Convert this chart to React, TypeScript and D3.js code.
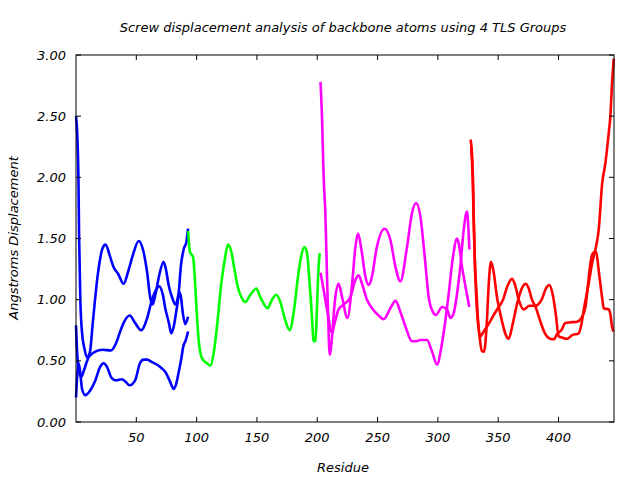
import React from "react";
import * as d3 from "d3";

const TITLE = "Screw displacement analysis of backbone atoms using 4 TLS Groups";
const X_LABEL = "Residue";
const Y_LABEL = "Angstroms Displacement";
const X_TICKS = [50, 100, 150, 200, 250, 300, 350, 400];
const Y_TICKS = [0, 0.5, 1.0, 1.5, 2.0, 2.5, 3.0];
const X_DOMAIN: [number, number] = [0, 446];
const Y_DOMAIN: [number, number] = [0, 3];

// Group 1 (blue) – three screw components
const blueA: [number, number][] = [
  [0, 2.5], [1, 2.36], [2, 2.0], [2.6, 1.5], [3.6, 1.0], [5, 0.73], [7, 0.6], [9, 0.53], [11.5, 0.57],
  [14, 0.82], [18, 1.2], [22, 1.42], [24.5, 1.45], [28, 1.36], [31, 1.27], [35, 1.21], [39.5, 1.13],
  [43.5, 1.24], [47, 1.36], [52, 1.48], [55.5, 1.41], [59, 1.22], [61.5, 1.02], [63.5, 0.96], [66, 1.05],
  [69, 1.2], [72.6, 1.31], [74.5, 1.25], [77, 1.11], [80, 1.01], [82.3, 0.96], [85, 1.05], [87, 1.28],
  [89.5, 1.42], [91.5, 1.47], [92.9, 1.58],
];
const blueB: [number, number][] = [
  [0, 0.79], [1, 0.56], [2.2, 0.43], [4.4, 0.37], [6.5, 0.42], [10.5, 0.53], [16, 0.575], [22, 0.59],
  [29, 0.585], [33, 0.64], [37, 0.75], [40, 0.82], [44.5, 0.87], [49, 0.81], [54, 0.75], [59, 0.85],
  [63, 1.0], [67, 1.09], [69, 1.11], [72, 1.04], [74, 0.93], [77, 0.81], [79, 0.725], [81, 0.78],
  [83.7, 0.94], [85.9, 1.06], [87, 1.02], [88.7, 0.88], [90.6, 0.8], [92.9, 0.86],
];
const blueC: [number, number][] = [
  [0, 0.2], [0.7, 0.33], [2.2, 0.48], [3.6, 0.4], [5, 0.27], [7.7, 0.22], [11.9, 0.26], [16, 0.34],
  [20, 0.45], [23, 0.48], [25.7, 0.45], [29.5, 0.36], [33, 0.34], [38, 0.35], [41, 0.33], [44.5, 0.3],
  [49, 0.34], [53, 0.48], [56, 0.51], [59, 0.51], [63, 0.49], [67, 0.47], [71, 0.44], [74, 0.41],
  [78, 0.33], [81, 0.27], [83, 0.31], [85, 0.4], [87, 0.5], [89, 0.62], [91, 0.67], [92.9, 0.74],
];

// Group 2 (green)
const green: [number, number][] = [
  [93, 1.56], [94.4, 1.39], [97, 1.35], [98.9, 1.11], [100.3, 0.86], [101.7, 0.67], [104.5, 0.52],
  [108.6, 0.48], [111.4, 0.46], [114.1, 0.56], [117.4, 0.83], [120.2, 1.11], [123.2, 1.32], [126, 1.45],
  [128.8, 1.39], [131.5, 1.24], [134, 1.11], [137.6, 1.01], [140.4, 0.98], [144.5, 1.04], [149.5, 1.09],
  [152.8, 1.02], [158.9, 0.93], [162.5, 1.0], [166.1, 1.04], [169.4, 0.98], [172.7, 0.86], [177.1, 0.75],
  [180.4, 0.89], [183.7, 1.16], [186.6, 1.35], [189.3, 1.43], [191.5, 1.38], [193.7, 1.13], [195.6, 0.86],
  [197, 0.66], [198.4, 0.66], [199.8, 0.94], [200.7, 1.19], [202, 1.38],
];

// Group 3 (magenta)
const magentaA: [number, number][] = [
  [202.7, 2.78], [204, 2.47], [205.3, 2.0], [206.7, 1.71], [208.1, 1.19], [208.9, 0.92], [210.3, 0.55],
  [212.3, 0.7], [214.4, 0.97], [217.7, 1.13], [220.6, 1.02], [225, 0.85], [228.9, 1.13], [231.6, 1.43],
  [233.8, 1.54], [236.6, 1.41], [239.9, 1.19], [242.6, 1.12], [245.4, 1.19], [249, 1.41], [255.9, 1.58],
  [260.6, 1.49], [264.8, 1.27], [268.9, 1.15], [274.4, 1.43], [278.6, 1.71], [281.9, 1.79], [285.5, 1.68],
  [289.1, 1.35], [292.4, 1.02], [295.8, 0.9], [298.3, 0.875], [303.5, 0.94], [307.6, 0.92], [310.4, 0.85],
  [313.1, 0.89], [315.9, 1.05], [318.6, 1.27], [321.4, 1.57], [324.1, 1.72], [325.2, 1.6], [326.1, 1.41],
];
const magentaB: [number, number][] = [
  [202.7, 1.22], [205.3, 1.08], [208.1, 0.92], [212.3, 0.73], [214.4, 0.81], [217.7, 0.92], [221.9, 0.96],
  [227.4, 1.02], [231.6, 1.16], [234.3, 1.2], [237.1, 1.13], [241.2, 1.0], [245.4, 0.93], [250.9, 0.87],
  [255, 0.84], [260.6, 0.93], [265, 0.99], [268.9, 0.9], [273.1, 0.78], [278.6, 0.66], [282, 0.66],
  [285.5, 0.67], [291, 0.67], [295, 0.58], [299.3, 0.47], [303, 0.62], [306.2, 0.83], [309, 1.05],
  [312.5, 1.35], [315.9, 1.5], [317.5, 1.45], [320, 1.27], [323, 1.1], [326, 0.94],
];

// Group 4 (red)
const redA: [number, number][] = [
  [327.1, 2.31], [328.4, 2.17], [329.2, 1.95], [329.7, 1.68], [330.5, 1.35], [331.9, 1.08], [333.3, 0.83],
  [335, 0.66], [336.5, 0.58], [338.2, 0.575], [340.5, 0.8], [342, 1.1], [344, 1.31], [346, 1.24],
  [349, 1.02], [353, 0.83], [356, 0.72], [358.7, 0.68], [362, 0.8], [366, 0.98], [370, 1.1], [372.6, 1.13],
  [375, 1.1], [378, 1.0], [381, 0.94], [385, 0.82], [389, 0.72], [393, 0.68], [396, 0.676], [399, 0.72],
  [402.3, 0.75], [405.7, 0.81], [410, 0.815], [415.4, 0.82], [419.6, 0.86], [422.3, 0.94], [424.5, 1.13],
  [426.5, 1.3], [428, 1.37], [430, 1.39], [431.2, 1.39], [433.3, 1.24], [436.1, 1.02], [437.5, 0.93],
  [441.6, 0.92], [443, 0.88], [444.4, 0.78], [445.5, 0.74],
];
const redB: [number, number][] = [
  [327.6, 2.25], [328.8, 2.0], [329.8, 1.6], [331, 1.2], [332.5, 0.9], [335.2, 0.7], [338, 0.74], [342, 0.8],
  [346, 0.87], [350.4, 0.94], [354, 1.0], [358, 1.12], [361.5, 1.17], [364, 1.12], [367, 1.0], [371.1, 0.92],
  [376, 0.95], [381, 0.95], [386, 1.0], [390, 1.1], [392.4, 1.12], [395, 1.05], [397.5, 0.9], [400.2, 0.7],
  [403, 0.69], [407.1, 0.68], [411.3, 0.71], [416.8, 0.725], [419, 0.8], [421, 0.92], [425, 1.13],
  [427.9, 1.3], [430.6, 1.41], [433.3, 1.57], [436.2, 1.95], [438.9, 2.12], [441.6, 2.36], [443, 2.5],
  [444.4, 2.77], [445.8, 2.97],
];

const SERIES: { data: [number, number][]; color: string }[] = [
  { data: blueA, color: "#0000ff" },
  { data: blueB, color: "#0000ff" },
  { data: blueC, color: "#0000ff" },
  { data: green, color: "#00ff00" },
  { data: magentaA, color: "#ff00ff" },
  { data: magentaB, color: "#ff00ff" },
  { data: redA, color: "#ff0000" },
  { data: redB, color: "#ff0000" },
];

export default function App() {
  const W = 640, H = 480;
  const L = 76, R = 614, T = 55, B = 422;
  const x = d3.scaleLinear().domain(X_DOMAIN).range([L, R]);
  const y = d3.scaleLinear().domain(Y_DOMAIN).range([B, T]);
  const line = d3
    .line<[number, number]>()
    .x((d) => x(d[0]))
    .y((d) => y(d[1]))
    .curve(d3.curveMonotoneX);
  const font = "'DejaVu Sans', sans-serif";
  const tick = 5;
  return (
    <svg width={W} height={H} style={{ position: "absolute", left: 0, top: 0, background: "#fff" }}
      fontFamily={font} fontStyle="italic" fontSize={13}>
      <rect x={0} y={0} width={W} height={H} fill="#fff" />
      {SERIES.map((s, i) => (
        <path key={i} d={line(s.data) || ""} fill="none" stroke={s.color} strokeWidth={2.6} strokeLinejoin="round" />
      ))}
      <rect x={L} y={T} width={R - L} height={B - T} fill="none" stroke="#000" strokeWidth={1} />
      {X_TICKS.map((t) => (
        <g key={"x" + t}>
          <line x1={x(t)} x2={x(t)} y1={B} y2={B - tick} stroke="#000" />
          <line x1={x(t)} x2={x(t)} y1={T} y2={T + tick} stroke="#000" />
          <text x={x(t)} y={B + 20} textAnchor="middle">{t}</text>
        </g>
      ))}
      {Y_TICKS.map((t) => (
        <g key={"y" + t}>
          <line x1={L} x2={L + tick} y1={y(t)} y2={y(t)} stroke="#000" />
          <line x1={R} x2={R - tick} y1={y(t)} y2={y(t)} stroke="#000" />
          <text x={L - 10} y={y(t) + 4.5} textAnchor="end">{t.toFixed(2)}</text>
        </g>
      ))}
      <text x={343} y={31.5} textAnchor="middle">{TITLE}</text>
      <text x={343} y={471.5} textAnchor="middle">{X_LABEL}</text>
      <text transform={`translate(18,238) rotate(-90)`} textAnchor="middle">{Y_LABEL}</text>
    </svg>
  );
}
